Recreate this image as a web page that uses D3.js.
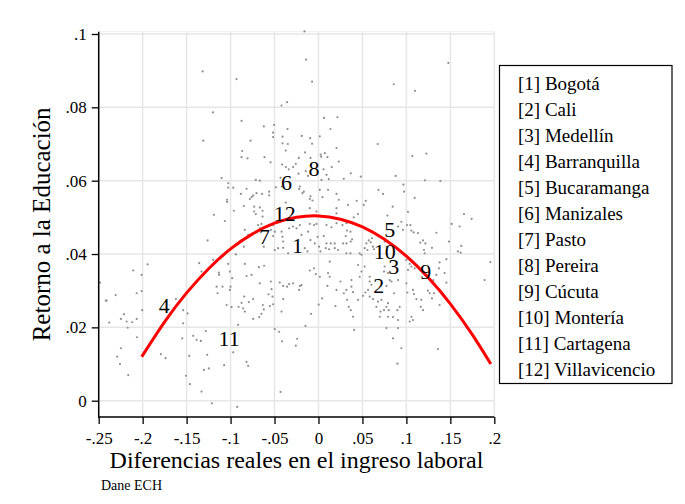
<!DOCTYPE html>
<html><head><meta charset="utf-8">
<script src="https://cdn.jsdelivr.net/npm/d3@7"></script>
<style>body{margin:0;background:#fff}svg{display:block}text{font-family:"Liberation Serif","Times New Roman",serif;fill:#000}</style>
</head><body><svg id="c" width="685" height="504"></svg>
<script>
const xTicks=[-0.25,-0.2,-0.15,-0.1,-0.05,0,0.05,0.1,0.15,0.2];
const xTickLabels=["-.25","-.2","-.15","-.1","-.05","0",".05",".1",".15",".2"];
const yTicks=[0,0.02,0.04,0.06,0.08,0.1];
const yTickLabels=["0",".02",".04",".06",".08",".1"];
const cityNames=["Bogotá","Cali","Medellín","Barranquilla","Bucaramanga","Manizales","Pasto","Pereira","Cúcuta","Montería","Cartagena","Villavicencio"];
const cityX=[-0.0239,0.0686,0.0856,-0.1755,0.0810,-0.0364,-0.0614,-0.0050,0.1220,0.0753,-0.1016,-0.0383];
const cityY=[0.0423,0.0316,0.0366,0.0261,0.0468,0.0595,0.0449,0.0634,0.0352,0.0407,0.0170,0.0511];
const fitX=[-0.201,-0.175,-0.15,-0.125,-0.1,-0.075,-0.05,-0.025,0,0.025,0.05,0.075,0.1,0.125,0.15,0.175,0.196];
const fitY=[0.0120,0.0215,0.0294,0.0360,0.0414,0.0455,0.0484,0.0500,0.0504,0.0495,0.0474,0.0440,0.0394,0.0335,0.0264,0.0180,0.0100];
const ptX=[-0.1318,-0.0932,-0.1201,-0.0875,-0.0622,-0.0505,-0.0516,-0.0516,-0.1311,-0.0773,-0.0868,-0.0875,-0.0807,-0.0614,
-0.0159,-0.0141,-0.0073,-0.0357,-0.0420,0.0856,0.1098,0.1477,-0.0352,-0.0409,-0.0190,-0.0095,-0.0409,-0.0349,-0.0073,0.0015,0.0064,0.0216,0.0136,0.0205,-0.0372,-0.0152,-0.0224,-0.0091,0.0026,0.0030,0.0072,0.0102,0.0674,0.1068,0.1227,
-0.0545,0.0151,0.0231,0.0288,-0.0414,-0.0372,-0.0338,-0.0289,-0.0258,-0.0227,-0.0144,-0.0118,0.0057,0.0091,0.0117,0.0034,-0.1102,-0.1027,-0.1027,-0.0970,-0.0713,-0.0667,-0.0432,-0.0485,-0.0417,-0.0818,-0.0883,-0.1039,-0.1039,-0.0761,-0.0781,-0.0743,-0.0705,-0.0641,-0.0561,-0.0561,-0.0849,-0.0963,-0.0732,-0.0667,-0.0636,-0.0212,-0.0220,-0.0167,-0.0182,-0.0091,-0.0099,-0.0068,0.0015,0.0045,0.0109,0.0205,0.0231,0.0336,0.0205,0.0205,-0.0099,-0.0372,-0.0023,
0.0367,0.0481,0.0878,0.1211,0.1386,0.0966,0.0682,0.0734,0.0973,0.1094,0.0435,0.0538,0.0515,0.0844,0.1018,0.0450,0.1655,0.1742,0.1515,0.1606,
0.0401,0.0784,0.0325,0.0364,0.0318,0.0367,0.0382,0.0318,0.0364,0.0469,0.0489,0.0526,0.0545,0.0572,0.0594,0.0609,0.0557,0.0620,0.0632,0.0753,0.0773,0.0905,0.0943,0.0961,0.1007,0.1045,0.1057,0.1083,0.1132,0.1189,0.1216,0.1159,0.1291,0.1208,0.1200,0.1341,0.1484,0.1625,0.1586,0.1617,0.1955,0.1890,0.1455,0.1378,0.1370,0.1435,0.1455,0.1341,0.1307,0.1314,0.1265,0.1114,0.1094,0.1018,0.1057,0.1000,0.1038,0.1000,0.1011,0.1075,0.1086,0.1114,0.1170,0.1163,0.1189,0.1245,0.1291,0.1378,0.1057,0.1075,0.1038,0.0905,0.0898,0.0924,0.0791,0.0773,0.0745,0.0799,0.0677,0.0716,0.0659,0.0705,0.0848,0.0791,0.0697,0.0583,0.0583,0.0602,0.0564,0.0534,0.0507,0.0745,0.0791,0.0810,0.0773,0.0830,0.0905,0.0859,0.0450,0.0375,0.0375,0.0318,0.0450,0.0489,0.0469,0.0526,0.0753,0.0344,0.0367,0.0393,0.0405,0.0773,0.0905,0.0848,0.0583,0.0620,
-0.0534,-0.0523,-0.0516,-0.0440,-0.0402,-0.0357,-0.0334,-0.0289,-0.0193,-0.0402,-0.0420,-0.0084,-0.0148,-0.0497,-0.0448,-0.0414,-0.0243,-0.0258,-0.0432,0.0003,0.0041,0.0102,0.0205,0.0288,0.0393,0.0193,0.0943,0.0898,0.1359,-0.0220,0.0250,0.0325,
-0.1190,-0.1065,-0.0732,-0.0636,-0.0648,-0.0516,-0.0497,-0.0539,-0.1261,-0.0838,-0.0800,-0.0849,-0.0622,-0.0497,-0.0459,-0.0940,-0.1198,-0.1357,-0.1330,-0.1133,-0.1130,-0.1027,-0.1008,-0.0982,-0.0838,-0.0818,-0.0761,-0.0678,-0.0618,-0.0667,-0.0542,-0.1943,-0.2107,-0.2011,-0.2485,-0.1159,-0.1091,-0.1000,
-0.0713,-0.0686,-0.0667,-0.0516,-0.0420,-0.0409,-0.0402,-0.0402,-0.0345,-0.0334,-0.0289,-0.0250,-0.0212,-0.0193,-0.0099,-0.0050,-0.0023,-0.0118,-0.0091,-0.0042,-0.0011,-0.0156,-0.0125,0.0007,0.0023,0.0091,0.0148,0.0205,0.0273,0.0318,0.0060,0.0091,0.0140,0.0185,0.0083,0.0120,0.0185,0.0223,0.0280,0.0310,-0.0553,-0.0648,-0.0914,-0.0099,-0.0050,-0.0031,0.0015,0.0128,0.0109,0.0128,-0.0212,
-0.2420,-0.2409,-0.2307,-0.2380,-0.2247,-0.2213,-0.2182,-0.2170,-0.2118,-0.2068,-0.2005,-0.2068,-0.2011,-0.2247,-0.2289,-0.2258,-0.2164,-0.2065,-0.1792,-0.1739,-0.1622,-0.1539,-0.1489,-0.1539,-0.1550,-0.1508,-0.1463,-0.1470,-0.1425,-0.1386,-0.1338,-0.1281,-0.1266,-0.1303,-0.1247,-0.1330,-0.1213,-0.1148,-0.1045,-0.0989,-0.1008,-0.1073,-0.0970,-0.0818,-0.0800,-0.0925,-0.0909,-0.0857,-0.0838,-0.0845,-0.0875,-0.0792,-0.0743,-0.0743,-0.0675,-0.0633,-0.0622,-0.0568];
const ptY=[0.0898,0.0877,0.0786,0.0763,0.0748,0.0752,0.0731,0.0719,0.0709,0.0709,0.0681,0.0664,0.0661,0.0664,
0.1007,0.0930,0.0870,0.0814,0.0805,0.0863,0.0845,0.0921,0.0741,0.0720,0.0722,0.0716,0.0702,0.0700,0.0701,0.0721,0.0771,0.0773,0.0741,0.0689,0.0682,0.0677,0.0662,0.0662,0.0671,0.0665,0.0675,0.0664,0.0700,0.0667,0.0674,
0.0650,0.0637,0.0652,0.0605,0.0644,0.0637,0.0631,0.0637,0.0646,0.0619,0.0626,0.0613,0.0631,0.0616,0.0604,0.0602,0.0607,0.0593,0.0581,0.0581,0.0602,0.0600,0.0608,0.0582,0.0584,0.0578,0.0564,0.0548,0.0542,0.0555,0.0550,0.0559,0.0566,0.0564,0.0570,0.0560,0.0531,0.0518,0.0529,0.0527,0.0518,0.0584,0.0577,0.0570,0.0566,0.0557,0.0550,0.0546,0.0575,0.0555,0.0575,0.0564,0.0548,0.0534,0.0525,0.0511,0.0525,0.0540,0.0516,
0.0620,0.0611,0.0613,0.0601,0.0599,0.0589,0.0575,0.0564,0.0570,0.0553,0.0545,0.0545,0.0534,0.0529,0.0515,0.0509,0.0509,0.0496,0.0482,0.0475,
0.0500,0.0505,0.0464,0.0461,0.0429,0.0434,0.0440,0.0402,0.0402,0.0402,0.0398,0.0416,0.0429,0.0437,0.0432,0.0443,0.0411,0.0420,0.0413,0.0434,0.0420,0.0475,0.0488,0.0466,0.0479,0.0479,0.0464,0.0459,0.0457,0.0437,0.0429,0.0431,0.0417,0.0402,0.0411,0.0458,0.0434,0.0422,0.0407,0.0404,0.0378,0.0329,0.0386,0.0377,0.0361,0.0348,0.0322,0.0343,0.0329,0.0293,0.0293,0.0370,0.0361,0.0357,0.0366,0.0384,0.0373,0.0320,0.0295,0.0302,0.0291,0.0277,0.0275,0.0256,0.0247,0.0300,0.0279,0.0261,0.0229,0.0220,0.0216,0.0220,0.0247,0.0256,0.0266,0.0256,0.0247,0.0247,0.0270,0.0275,0.0256,0.0243,0.0228,0.0229,0.0229,0.0338,0.0325,0.0316,0.0302,0.0295,0.0286,0.0352,0.0348,0.0329,0.0313,0.0325,0.0329,0.0293,0.0275,0.0329,0.0311,0.0302,0.0370,0.0352,0.0338,0.0366,0.0366,0.0256,0.0247,0.0229,0.0193,0.0198,0.0198,0.0170,0.0284,0.0277,
0.0304,0.0284,0.0263,0.0322,0.0313,0.0311,0.0318,0.0320,0.0315,0.0277,0.0243,0.0237,0.0204,0.0195,0.0188,0.0162,0.0169,0.0150,0.0024,0.0262,0.0279,0.0313,0.0302,0.0293,0.0296,0.0258,0.0143,0.0101,0.0141,0.0302,0.0325,0.0275,
0.0507,0.0490,0.0516,0.0502,0.0482,0.0479,0.0461,0.0466,0.0437,0.0466,0.0452,0.0420,0.0420,0.0411,0.0416,0.0399,0.0384,0.0375,0.0352,0.0349,0.0343,0.0373,0.0352,0.0334,0.0373,0.0340,0.0343,0.0364,0.0368,0.0320,0.0325,0.0372,0.0355,0.0343,0.0322,0.0311,0.0311,0.0311,
0.0509,0.0479,0.0470,0.0449,0.0461,0.0447,0.0434,0.0417,0.0402,0.0470,0.0475,0.0470,0.0479,0.0452,0.0482,0.0479,0.0482,0.0461,0.0438,0.0429,0.0447,0.0416,0.0407,0.0420,0.0407,0.0479,0.0473,0.0484,0.0479,0.0484,0.0449,0.0429,0.0429,0.0429,0.0416,0.0413,0.0416,0.0411,0.0429,0.0449,0.0258,0.0237,0.0207,0.0355,0.0361,0.0345,0.0338,0.0379,0.0348,0.0338,0.0313,
0.0273,0.0273,0.0288,0.0213,0.0223,0.0236,0.0216,0.0199,0.0214,0.0223,0.0247,0.0293,0.0299,0.0143,0.0120,0.0100,0.0070,0.0173,0.0127,0.0116,0.0277,0.0247,0.0238,0.0211,0.0170,0.0068,0.0045,0.0122,0.0177,0.0166,0.0163,0.0190,0.0125,0.0084,0.0088,0.0025,-0.0007,0.0293,0.0261,0.0255,0.0302,0.0097,0.0132,0.0106,0.0095,-0.0017,0.0256,0.0252,0.0243,0.0284,0.0267,0.0269,0.0277,0.0223,0.0228,0.0261,0.0249,0.0290];

const svg=d3.select("#c");
svg.append("rect").attr("width",685).attr("height",504).attr("fill","#fff");
const x=d3.scaleLinear().domain([-0.25,0.2]).range([98.7,494.3]);
const y=d3.scaleLinear().domain([0,0.1]).range([400.7,34]);
const plotTop=31.7, plotBottom=417;
const grid="#e6e6e6";

// gridlines
svg.append("g").selectAll("line").data(xTicks).join("line")
  .attr("x1",d=>x(d)).attr("x2",d=>x(d)).attr("y1",plotTop).attr("y2",plotBottom)
  .attr("stroke",grid).attr("stroke-width",1.5);
svg.append("g").selectAll("line").data(yTicks).join("line")
  .attr("x1",x(-0.25)).attr("x2",x(0.2)).attr("y1",d=>y(d)).attr("y2",d=>y(d))
  .attr("stroke",grid).attr("stroke-width",1.5);
svg.append("line").attr("x1",x(-0.25)).attr("x2",x(0.2)).attr("y1",plotTop).attr("y2",plotTop)
  .attr("stroke","#efefef").attr("stroke-width",1);

// scatter
const pts=ptX.map((v,i)=>[v,ptY[i]]);
svg.append("g").selectAll("circle").data(pts).join("circle")
  .attr("cx",d=>x(d[0])).attr("cy",d=>y(d[1])).attr("r",1.1).attr("fill","#8f8f8f");

// fit line
const fit=fitX.map((v,i)=>[v,fitY[i]]);
svg.append("path").datum(fit)
  .attr("d",d3.line().x(d=>x(d[0])).y(d=>y(d[1])).curve(d3.curveNatural))
  .attr("fill","none").attr("stroke","#ff0000").attr("stroke-width",3);

// city labels
svg.append("g").selectAll("text").data(cityX).join("text")
  .attr("x",d=>x(d)).attr("y",(d,i)=>y(cityY[i])).attr("dy","0.35em")
  .attr("text-anchor","middle").attr("font-size",22)
  .text((d,i)=>String(i+1));

// axes
const xAxis=d3.axisBottom(x).tickValues(xTicks).tickFormat((d,i)=>xTickLabels[i]).tickSize(7).tickSizeOuter(0).tickPadding(8);
const gx=svg.append("g").attr("transform",`translate(0,${plotBottom})`).call(xAxis);
gx.select(".domain").remove();
gx.selectAll("line").attr("stroke","#000").attr("stroke-width",1.3);
gx.selectAll("text").attr("font-size",17).attr("font-family","Liberation Serif");

const yAxis=d3.axisLeft(y).tickValues(yTicks).tickFormat((d,i)=>yTickLabels[i]).tickSize(7).tickSizeOuter(0).tickPadding(5);
const gy=svg.append("g").attr("transform",`translate(${x(-0.25)},0)`).call(yAxis);
gy.select(".domain").remove();
gy.selectAll("line").attr("stroke","#000").attr("stroke-width",1.3);
gy.selectAll("text").attr("font-size",17).attr("font-family","Liberation Serif");

svg.append("line").attr("x1",x(-0.25)).attr("x2",x(-0.25)).attr("y1",plotTop).attr("y2",plotBottom+0.7).attr("stroke","#000").attr("stroke-width",1.5);
svg.append("line").attr("x1",x(-0.25)-0.7).attr("x2",x(0.2)).attr("y1",plotBottom).attr("y2",plotBottom).attr("stroke","#000").attr("stroke-width",1.5);

// titles
svg.append("text").attr("x",(x(-0.25)+x(0.2))/2).attr("y",468).attr("text-anchor","middle").attr("font-size",24)
  .text("Diferencias reales en el ingreso laboral");
svg.append("text").attr("transform",`translate(50,${(plotTop+plotBottom)/2}) rotate(-90)`).attr("text-anchor","middle").attr("font-size",25)
  .text("Retorno a la Educación");
svg.append("text").attr("x",101).attr("y",490).attr("font-size",14).text("Dane ECH");

// legend
const lg=svg.append("g");
lg.append("rect").attr("x",499.5).attr("y",65.5).attr("width",172.5).attr("height",318).attr("fill","#fff").attr("stroke","#000").attr("stroke-width",1.2);
lg.selectAll("text").data(cityNames).join("text")
  .attr("x",518).attr("y",(d,i)=>83.5+i*26).attr("dy","0.35em").attr("font-size",19)
  .text((d,i)=>`[${i+1}] ${d}`);
</script></body></html>
